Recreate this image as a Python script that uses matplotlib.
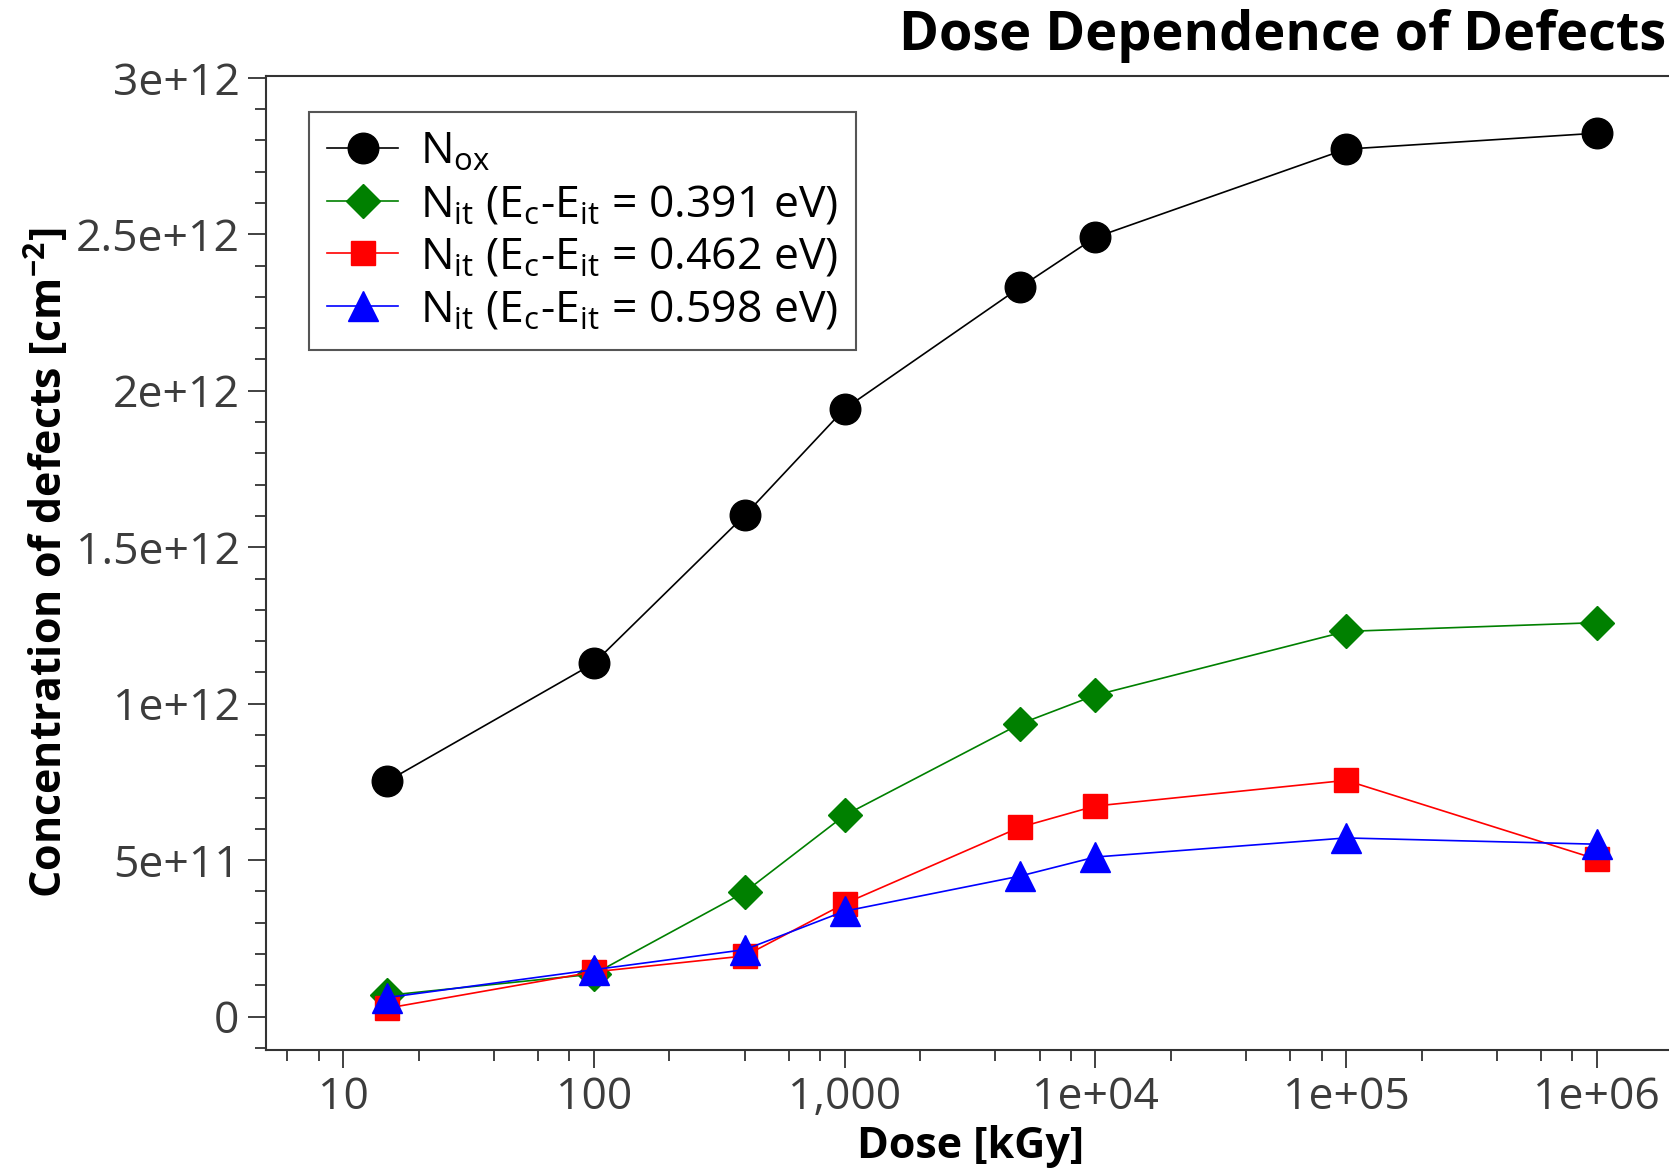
import numpy as np
import matplotlib
matplotlib.use("Agg")
import matplotlib.pyplot as plt
from matplotlib.ticker import FixedLocator, FixedFormatter, MultipleLocator

# dose points [kGy]
dose = [15, 100, 400, 1000, 5000, 10000, 100000, 1000000]

# defect concentrations [cm^-2]
n_ox = [0.752e12, 1.129e12, 1.602e12, 1.942e12, 2.33e12, 2.49e12, 2.772e12, 2.823e12]
n_it_391 = [0.068e12, 0.136e12, 0.398e12, 0.643e12, 0.935e12, 1.027e12, 1.231e12, 1.259e12]
n_it_462 = [0.027e12, 0.143e12, 0.194e12, 0.361e12, 0.605e12, 0.673e12, 0.755e12, 0.503e12]
n_it_598 = [0.061e12, 0.150e12, 0.214e12, 0.337e12, 0.449e12, 0.510e12, 0.571e12, 0.551e12]

labels = [r"N$_\mathrm{ox}$",
          r"N$_\mathrm{it}$ (E$_\mathrm{c}$-E$_\mathrm{it}$ = 0.391 eV)",
          r"N$_\mathrm{it}$ (E$_\mathrm{c}$-E$_\mathrm{it}$ = 0.462 eV)",
          r"N$_\mathrm{it}$ (E$_\mathrm{c}$-E$_\mathrm{it}$ = 0.598 eV)"]

xticks = [10, 100, 1000, 1e4, 1e5, 1e6]
xticklabels = ["10", "100", "1,000", "1e+04", "1e+05", "1e+06"]
yticks = [0, 5e11, 1e12, 1.5e12, 2e12, 2.5e12, 3e12]
yticklabels = ["0", "5e+11", "1e+12", "1.5e+12", "2e+12", "2.5e+12", "3e+12"]

plt.rcParams['font.family'] = ['Open Sans', 'DejaVu Sans']
plt.rcParams['mathtext.fontset'] = 'custom'
plt.rcParams['mathtext.rm'] = 'Open Sans'
plt.rcParams['mathtext.it'] = 'Open Sans:italic'
plt.rcParams['mathtext.bf'] = 'Open Sans:bold'

W, H = 1669, 1169
fig = plt.figure(figsize=(W / 100, H / 100), dpi=100)
# axes runs slightly past the right edge of the canvas
ax = fig.add_axes([266 / W, 1 - 1049.5 / H, (1676 - 266) / W, (1049.5 - 75.6) / H])

ax.plot(dose, n_ox, color='black', lw=1.2, marker='o', ms=22, label=labels[0], zorder=3)
ax.plot(dose, n_it_391, color='green', lw=1.2, marker='D', ms=17, label=labels[1], zorder=4)
ax.plot(dose, n_it_462, color='red', lw=1.2, marker='s', ms=17, label=labels[2], zorder=5)
ax.plot(dose, n_it_598, color='blue', lw=1.2, marker='^', ms=21, label=labels[3], zorder=6)

ax.set_xscale('log')
ax.set_xlim(4.93, 2.07e6)
ax.set_ylim(-1.05e11, 3.007e12)

ax.xaxis.set_major_locator(FixedLocator(xticks))
ax.xaxis.set_major_formatter(FixedFormatter(xticklabels))
minor_x = [m * 10.0 ** e for e in range(0, 7) for m in (2, 4, 6, 8)]
ax.xaxis.set_minor_locator(FixedLocator(minor_x))
ax.yaxis.set_major_locator(FixedLocator(yticks))
ax.yaxis.set_major_formatter(FixedFormatter(yticklabels))
ax.yaxis.set_minor_locator(MultipleLocator(1e11))

for side in ('left', 'bottom', 'top'):
    ax.spines[side].set_color('#333333')
    ax.spines[side].set_linewidth(1.5)
ax.spines['right'].set_visible(False)

ax.tick_params(which='major', direction='out', length=13, width=1.3, color='#333333',
               labelsize=32, labelcolor='#3c3c3c', pad=6)
ax.tick_params(which='minor', direction='out', length=8, width=1.3, color='#333333')

ax.set_xlabel("Dose [kGy]", fontsize=31, fontweight='bold', labelpad=0, va='baseline')
ax.xaxis.set_label_coords((971 - 266) / (1676 - 266), -(1158 - 1049.5) / (1049.5 - 75.6))
ax.set_ylabel(r"Concentration of defects [cm$^\mathbf{-2}$]", fontsize=31, fontweight='bold')
ax.yaxis.set_label_coords(-(266 - 73) / (1676 - 266), 0.5)

fig.text(1666 / W, 1 - 36 / H, "Dose Dependence of Defects", fontsize=39, fontweight='bold',
         ha='right', va='center')

leg = ax.legend(loc='upper left', bbox_to_anchor=(0.015, 0.985), fontsize=32, fancybox=False,
                edgecolor='#555555', framealpha=1, handlelength=1.6, handletextpad=0.5,
                labelspacing=0.18, borderpad=0.4)
leg.get_frame().set_linewidth(1.5)

fig.savefig("out.png", dpi=100)
